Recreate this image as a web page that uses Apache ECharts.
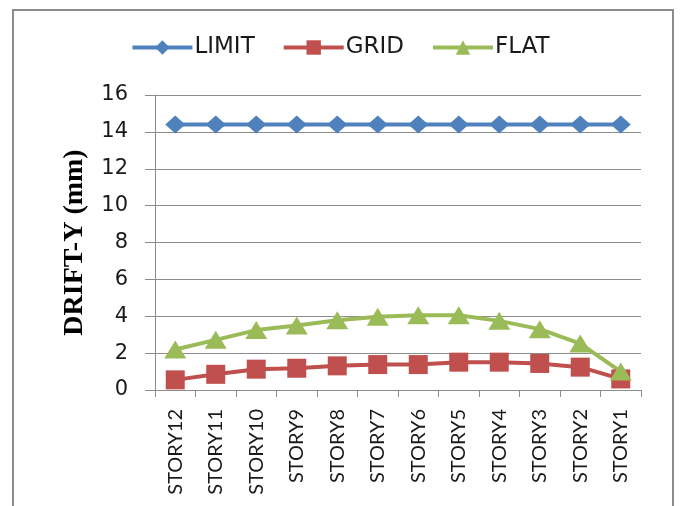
<!DOCTYPE html>
<html>
<head>
<meta charset="utf-8">
<script src="https://cdn.jsdelivr.net/npm/echarts@6/dist/echarts.min.js"></script>
<style>html,body{margin:0;padding:0;background:#fff}#c{width:680px;height:506px}</style>
</head>
<body>
<div id="c"></div>
<script>
const categories = ['STORY12','STORY11','STORY10','STORY9','STORY8','STORY7','STORY6','STORY5','STORY4','STORY3','STORY2','STORY1'];
const limitValues = [14.4,14.4,14.4,14.4,14.4,14.4,14.4,14.4,14.4,14.4,14.4,14.4];
const gridValues = [0.55,0.85,1.13,1.18,1.31,1.38,1.38,1.51,1.51,1.44,1.24,0.6];
const flatValues = [2.2,2.72,3.25,3.5,3.78,3.97,4.05,4.05,3.75,3.3,2.52,1.0];
const yTicks = [0,2,4,6,8,10,12,14,16];

const chart = echarts.init(document.getElementById('c'));
chart.setOption({
  animation: false,
  backgroundColor: '#fff',
  graphic: [{
    type: 'rect', shape: {x: 13, y: 10, width: 660, height: 520},
    style: {fill: 'none', stroke: '#8c8c8c', lineWidth: 2}
  }],
  legend: {
    top: 31, left: 'center',
    itemWidth: 60, itemHeight: 18, itemGap: 27,
    lineStyle: {width: 4},
    textStyle: {fontFamily: 'DejaVu Sans', fontSize: 23, color: '#1a1a1a', padding: [0,0,0,-3]},
    data: ['LIMIT','GRID','FLAT']
  },
  grid: {left: 155, right: 39, top: 95, bottom: 116, containLabel: false},
  xAxis: {
    type: 'category', data: categories, boundaryGap: true,
    axisLine: {lineStyle: {color: '#8c8c8c', width: 1}},
    axisTick: {show: true, alignWithLabel: false, length: 7, lineStyle: {color: '#8c8c8c'}},
    axisLabel: {rotate: 90, fontFamily: 'Lato', fontSize: 20, color: '#1a1a1a', margin: 19, interval: 0}
  },
  yAxis: {
    type: 'value', min: 0, max: 16, interval: 2,
    name: 'DRIFT-Y (mm)', nameLocation: 'middle', nameGap: 66, nameRotate: 90,
    nameTextStyle: {fontFamily: 'Liberation Serif', fontWeight: 'bold', fontSize: 28, color: '#000'},
    axisLine: {show: true, lineStyle: {color: '#8c8c8c'}},
    axisTick: {show: true, length: 10, lineStyle: {color: '#8c8c8c'}},
    splitLine: {lineStyle: {color: '#8c8c8c', width: 1}},
    axisLabel: {fontFamily: 'DejaVu Sans', fontSize: 21, color: '#1a1a1a', margin: 27,
      formatter: v => yTicks.indexOf(v) >= 0 ? String(v) : ''}
  },
  series: [
    {name: 'LIMIT', type: 'line', data: limitValues, symbol: 'diamond', symbolSize: [20, 18],
      itemStyle: {color: '#4F81BD'}, lineStyle: {color: '#4F81BD', width: 4}},
    {name: 'GRID', type: 'line', data: gridValues, symbol: 'rect', symbolSize: 19,
      itemStyle: {color: '#C0504D'}, lineStyle: {color: '#C0504D', width: 4}},
    {name: 'FLAT', type: 'line', data: flatValues, symbol: 'triangle', symbolSize: [22, 18],
      itemStyle: {color: '#9BBB59'}, lineStyle: {color: '#9BBB59', width: 4}}
  ]
});
</script>
</body>
</html>
